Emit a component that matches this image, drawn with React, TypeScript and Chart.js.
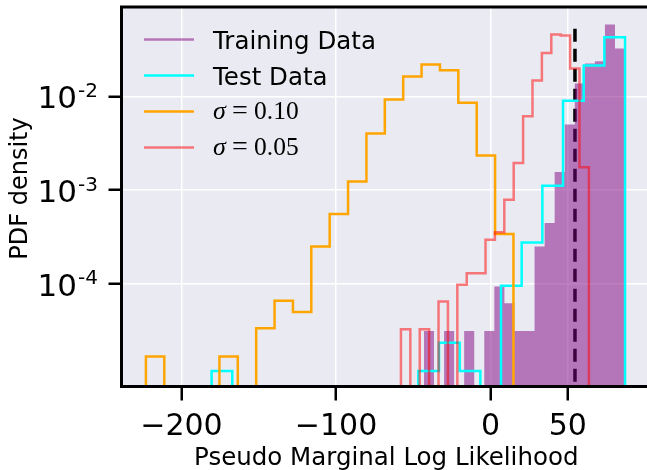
import React, { useEffect, useRef } from 'react';
import { Chart, registerables } from 'chart.js';

Chart.register(...registerables);

// ---------- data ----------
const X_MIN = -238.8;
const X_MAX = 102.5;
const Y_MIN = 8.04e-6;
const Y_MAX = 0.0896;
const xTickValues = [-200, -100, 0, 50];
const yTickExponents = [-4, -3, -2];
const xTitle = 'Pseudo Marginal Log Likelihood';
const yTitle = 'PDF density';

// histogram ranges [first edge, last edge], 20 equal bins each
const trainRange = [-43.1, 87.0];
const testRange = [-180.5, 87.0];
const sigma10Range = [-223.0, 14.8];
const sigma05Range = [-58.0, 63.6];

// densities per bin
const trainDensity = [
  3.15e-5, 0, 3.15e-5, 0, 3.15e-5, 0, 3.15e-5, 9.35e-5, 6.22e-5, 3.15e-5,
  3.15e-5, 2.5e-4, 4.45e-4, 1.56e-3, 4.99e-3, 1.368e-2, 2.234e-2, 2.366e-2, 5.834e-2, 3.228e-2,
];
const testDensity = [
  1.178e-5, 0, 0, 0, 0, 0, 0, 0, 0, 0,
  1.178e-5, 2.36e-5, 1.178e-5, 0, 9.53e-5, 2.76e-4, 1.112e-3, 8.99e-3, 2.128e-2, 4.266e-2,
];
const sigma10Density = [
  1.675e-5, 0, 0, 0, 1.675e-5, 0, 3.37e-5, 6.62e-5, 5.02e-5, 2.5e-4,
  5.55e-4, 1.236e-3, 4.0e-3, 9.23e-3, 1.622e-2, 2.178e-2, 1.897e-2, 8.51e-3, 2.33e-3, 3.4e-4,
];
const sigma05Density = [
  3.28e-5, 0, 3.28e-5, 0, 6.47e-5, 0, 9.75e-5, 1.3e-4, 1.3e-4, 2.95e-4,
  3.56e-4, 7.89e-4, 1.945e-3, 6.11e-3, 1.472e-2, 2.904e-2, 4.56e-2, 4.45e-2, 1.977e-2, 1.746e-3,
];

const refLineX = 54.6;
const refLineTop = 0.0525;

const seriesLabels = ['Training Data', 'Test Data', 'σ = 0.10', 'σ = 0.05'];

// ---------- helpers ----------
const FLOOR = 1e-7;

function stepPoints(range: number[], vals: number[]) {
  const [lo, hi] = range;
  const n = vals.length;
  const w = (hi - lo) / n;
  const pts: { x: number; y: number }[] = [{ x: lo, y: FLOOR }];
  vals.forEach((v, i) => {
    const y = v > 0 ? v : FLOOR;
    pts.push({ x: lo + i * w, y });
    pts.push({ x: lo + (i + 1) * w, y });
  });
  pts.push({ x: hi, y: FLOOR });
  return pts;
}

function fmtX(v: number) {
  return v < 0 ? '\u2212' + Math.abs(v) : String(v);
}

const decorPlugin = {
  id: 'decor',
  beforeDraw(chart: any) {
    const { ctx, chartArea: a } = chart;
    ctx.save();
    ctx.fillStyle = '#EAEAF2';
    ctx.fillRect(a.left, a.top, a.right - a.left, a.bottom - a.top);
    ctx.restore();
  },
  afterDraw(chart: any) {
    const { ctx, chartArea: a, scales } = chart;
    ctx.save();
    // spines
    ctx.strokeStyle = '#000';
    ctx.lineWidth = 3;
    ctx.lineCap = 'square';
    ctx.beginPath();
    ctx.moveTo(a.left, a.bottom);
    ctx.lineTo(a.left, a.top);
    ctx.lineTo(a.right, a.top);
    ctx.moveTo(a.left, a.bottom);
    ctx.lineTo(a.right, a.bottom);
    ctx.stroke();

    ctx.fillStyle = '#000';
    // x tick labels
    ctx.font = '30px "DejaVu Sans"';
    ctx.textAlign = 'center';
    ctx.textBaseline = 'alphabetic';
    xTickValues.forEach((v) => {
      ctx.fillText(fmtX(v), scales.x.getPixelForValue(v), a.bottom + 48.5);
    });
    // y tick labels (10^e)
    ctx.textAlign = 'left';
    yTickExponents.forEach((e) => {
      const py = scales.y.getPixelForValue(Math.pow(10, e));
      const sup = '-' + Math.abs(e);
      ctx.font = '20px "DejaVu Sans"';
      const sw = ctx.measureText(sup).width;
      const right = 98;
      ctx.fillText(sup, right - sw, py + 0.5);
      ctx.font = '31px "DejaVu Sans"';
      const bw = ctx.measureText('10').width;
      ctx.fillText('10', right - sw - bw - 1, py + 11.8);
    });
    // axis titles
    ctx.font = '24.5px "DejaVu Sans"';
    ctx.textAlign = 'center';
    ctx.fillText(xTitle, (a.left + a.right) / 2 + 1, 465);
    ctx.save();
    ctx.translate(27, 188.5);
    ctx.rotate(-Math.PI / 2);
    ctx.font = '24px "DejaVu Sans"';
    ctx.fillText(yTitle, 0, 0);
    ctx.restore();

    // legend
    const items = chart.data.datasets.filter((d: any) => d.label);
    items.forEach((d: any, i: number) => {
      const y = 39.5 + i * 36;
      ctx.strokeStyle = d.fill ? d.legendColor : d.borderColor;
      ctx.lineWidth = 2.5;
      ctx.lineCap = 'butt';
      ctx.beginPath();
      ctx.moveTo(144, y);
      ctx.lineTo(194, y);
      ctx.stroke();
      ctx.fillStyle = '#000';
      ctx.textAlign = 'left';
      const m = String(d.label).match(/^σ\s*=\s*(.*)$/);
      if (m) {
        const base = y + 7.8;
        ctx.font = 'italic 26px "Liberation Serif"';
        ctx.fillText('σ', 213, base);
        ctx.font = '28px "Liberation Serif"';
        ctx.fillText('=', 232, base);
        ctx.font = '25.5px "Liberation Serif"';
        ctx.fillText(m[1], 254, base);
      } else {
        ctx.font = '24.5px "DejaVu Sans"';
        ctx.fillText(d.label, 213, y + 9);
      }
    });
    ctx.restore();
  },
};

export default function App() {
  const ref = useRef<HTMLCanvasElement | null>(null);

  useEffect(() => {
    if (!ref.current) return;
    const common = {
      pointRadius: 0,
      tension: 0,
      borderJoinStyle: 'miter',
      borderCapStyle: 'butt',
    };
    const chart = new Chart(ref.current, {
      type: 'line',
      data: {
        datasets: [
          {
            ...common,
            label: seriesLabels[0],
            data: stepPoints(trainRange, trainDensity),
            fill: 'start',
            backgroundColor: 'rgba(128,0,128,0.5)',
            legendColor: 'rgba(128,0,128,0.5)',
            borderColor: 'rgba(0,0,0,0)',
            borderWidth: 0,
            order: 9,
          },
          {
            ...common,
            label: seriesLabels[1],
            data: stepPoints(testRange, testDensity),
            fill: false,
            borderColor: '#00FFFF',
            borderWidth: 2.5,
            order: 8,
          },
          {
            ...common,
            label: seriesLabels[2],
            data: stepPoints(sigma10Range, sigma10Density),
            fill: false,
            borderColor: '#FFA500',
            borderWidth: 2.5,
            order: 7,
          },
          {
            ...common,
            label: seriesLabels[3],
            data: stepPoints(sigma05Range, sigma05Density),
            fill: false,
            borderColor: 'rgba(255,0,0,0.5)',
            borderWidth: 2.5,
            order: 6,
          },
          {
            ...common,
            label: '',
            data: [
              { x: refLineX, y: refLineTop },
              { x: refLineX, y: FLOOR },
            ],
            fill: false,
            borderColor: '#000',
            borderWidth: 3.5,
            borderDash: [13, 7],
            order: 10,
          },
        ] as any,
      },
      options: {
        responsive: false,
        animation: false,
        devicePixelRatio: 1,
        layout: { padding: { top: 7, right: 3, left: 0, bottom: 0 } },
        plugins: { legend: { display: false }, tooltip: { enabled: false } },
        scales: {
          x: {
            type: 'linear',
            min: X_MIN,
            max: X_MAX,
            bounds: 'data',
            afterBuildTicks: (s: any) => {
              s.ticks = xTickValues.map((v) => ({ value: v }));
            },
            afterFit: (s: any) => {
              s.height = 83.5;
            },
            ticks: { display: false },
            grid: {
              color: '#FFFFFF',
              lineWidth: 1.5,
              tickColor: '#000',
              tickWidth: 2.5,
              tickLength: 14,
              drawTicks: true,
            },
            border: { display: false },
          },
          y: {
            type: 'logarithmic',
            min: Y_MIN,
            max: Y_MAX,
            bounds: 'data',
            afterBuildTicks: (s: any) => {
              s.ticks = yTickExponents.map((e) => ({ value: Math.pow(10, e) }));
            },
            afterFit: (s: any) => {
              s.width = 121.5;
            },
            ticks: { display: false },
            grid: {
              color: '#FFFFFF',
              lineWidth: 1.5,
              tickColor: '#000',
              tickWidth: 2.5,
              tickLength: 13,
              drawTicks: true,
            },
            border: { display: false },
          },
        },
      } as any,
      plugins: [decorPlugin],
    });
    return () => chart.destroy();
  }, []);

  return (
    <div
      style={{
        position: 'fixed',
        left: 0,
        top: 0,
        width: 647,
        height: 470,
        overflow: 'hidden',
        background: '#fff',
      }}
    >
      <canvas ref={ref} width={652} height={470} style={{ display: 'block', width: 652, height: 470 }} />
    </div>
  );
}
